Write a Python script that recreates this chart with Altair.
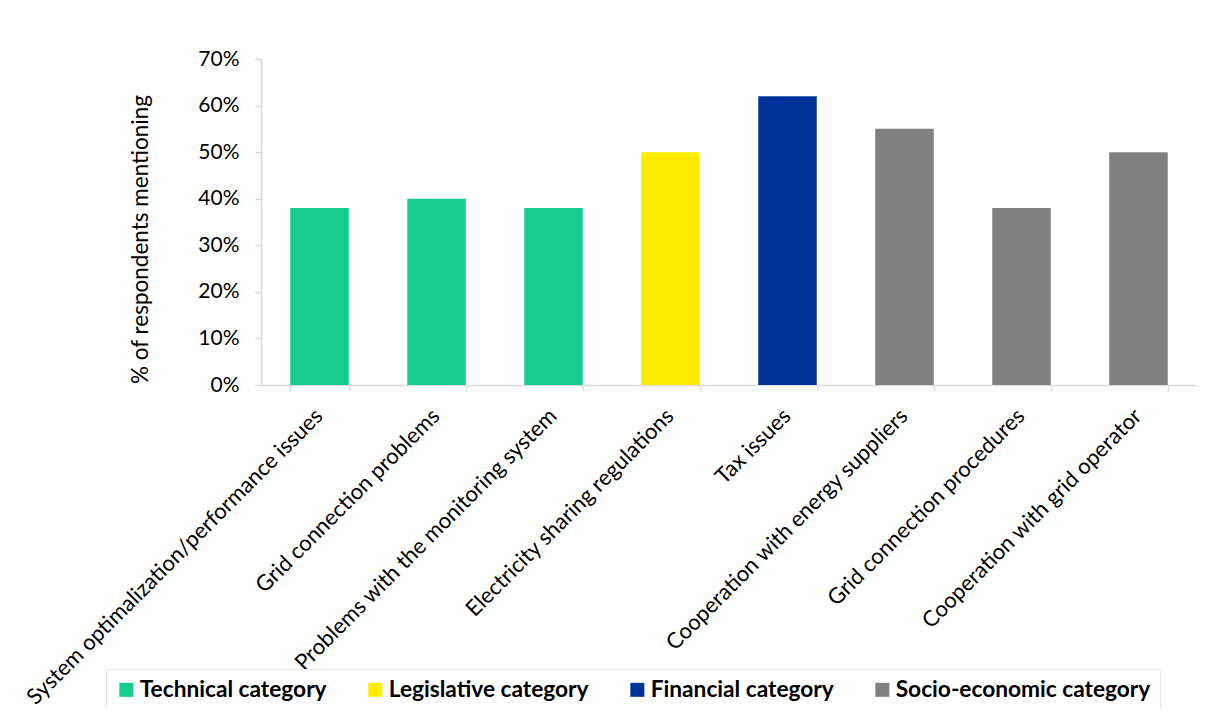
import altair as alt
import pandas as pd

issues = [
    "System optimalization/performance issues",
    "Grid connection problems",
    "Problems with the monitoring system",
    "Electricity sharing regulations",
    "Tax issues",
    "Cooperation with energy suppliers",
    "Grid connection procedures",
    "Cooperation with grid operator",
]
shares = [0.38, 0.40, 0.38, 0.50, 0.62, 0.55, 0.38, 0.50]
groups = [
    "Technical category", "Technical category", "Technical category",
    "Legislative category", "Financial category",
    "Socio-economic category", "Socio-economic category", "Socio-economic category",
]
group_order = ["Technical category", "Legislative category", "Financial category", "Socio-economic category"]
group_colors = ["#16CC8E", "#FFED00", "#003399", "#808080"]
y_ticks = [0, 0.1, 0.2, 0.3, 0.4, 0.5, 0.6, 0.7]

df = pd.DataFrame({"issue": issues, "share": shares, "group": groups})

FONT = "Lato"

chart = alt.Chart(df).mark_bar().encode(
    x=alt.X(
        "issue:N",
        sort=issues,
        title=None,
        scale=alt.Scale(paddingInner=0.5, paddingOuter=0.25),
        axis=alt.Axis(
            labelAngle=-45,
            labelAlign="right",
            labelBaseline="top",
            labelFont=FONT,
            labelFontSize=22,
            labelColor="#000000",
            labelPadding=14,
            labelOffset=-8,
            labelLimit=600,
            domainColor="#dcdcdc",
            domainWidth=1.5,
            tickColor="#dcdcdc",
            tickWidth=1.5,
            tickSize=6,
            tickBand="extent",
        ),
    ),
    y=alt.Y(
        "share:Q",
        title="% of respondents mentioning",
        scale=alt.Scale(domain=[0, 0.7], nice=False),
        axis=alt.Axis(
            values=y_ticks,
            format=".0%",
            grid=False,
            labelFont=FONT,
            labelFontSize=21,
            labelColor="#000000",
            labelPadding=16,
            domainColor="#dcdcdc",
            domainWidth=1.5,
            tickColor="#dcdcdc",
            tickWidth=1.5,
            tickSize=6,
            titleFont=FONT,
            titleFontSize=22.5,
            titleFontWeight="normal",
            titleColor="#000000",
            titlePadding=45,
            titleY=180,
        ),
    ),
    color=alt.Color(
        "group:N",
        scale=alt.Scale(domain=group_order, range=group_colors),
        legend=alt.Legend(
            title=None,
            orient="none",
            direction="horizontal",
            legendX=-155,
            legendY=610,
            symbolType="square",
            symbolSize=196,
            symbolStrokeWidth=0,
            labelFont=FONT,
            labelFontSize=22.7,
            labelFontWeight="bold",
            labelColor="#000000",
            labelOffset=2,
            labelLimit=400,
            columnPadding=37,
            padding=9,
            strokeColor="#e8e8e8",
            fillColor="#ffffff",
        ),
    ),
).properties(
    width=936,
    height=326,
    autosize=alt.AutoSizeParams(type="none"),
    padding={"left": 253, "top": 51, "right": 2, "bottom": 323},
).configure(
    background="#ffffff"
).configure_view(
    stroke=None
)

chart.save("out.html", embed_options={"renderer": "svg", "actions": False})
